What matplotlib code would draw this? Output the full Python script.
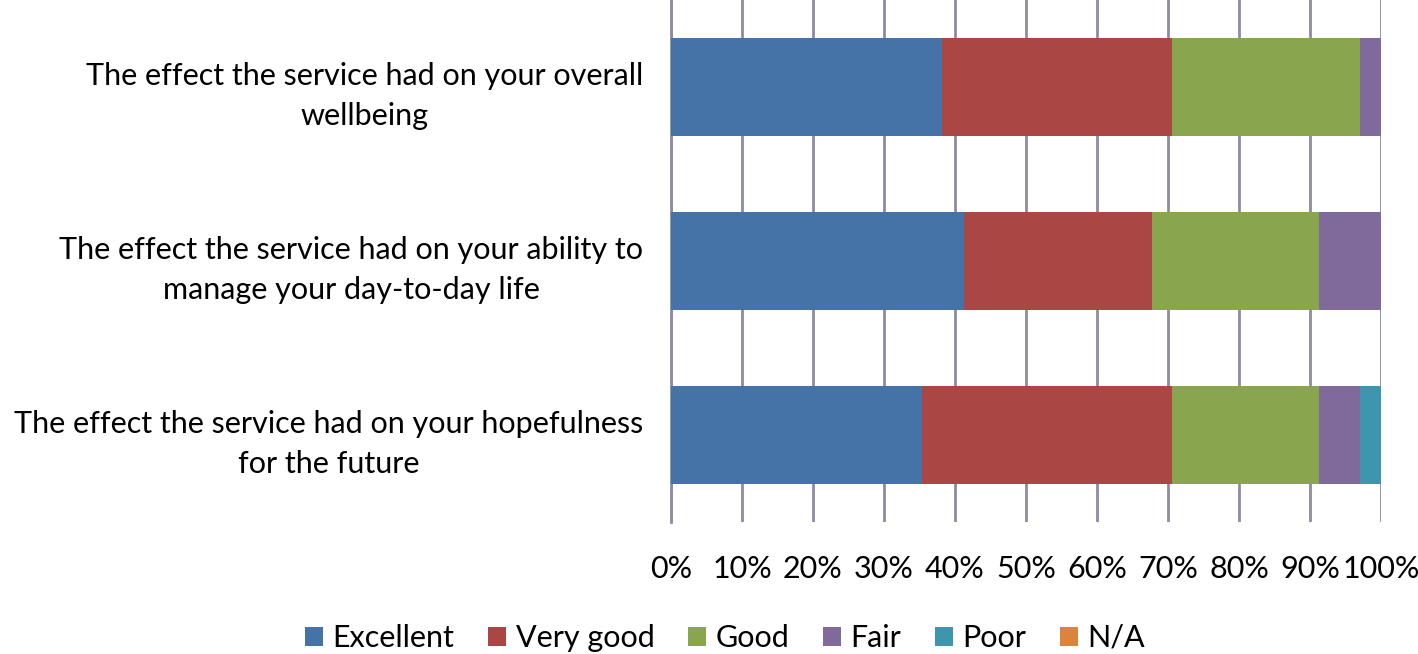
import matplotlib.pyplot as plt
import numpy as np

plt.rcParams['font.family'] = ['Lato', 'DejaVu Sans']

questions = [
    'The effect the service had on your overall\nwellbeing',
    'The effect the service had on your ability to\nmanage your day-to-day life',
    'The effect the service had on your hopefulness\nfor the future',
]
categories = ['Excellent', 'Very good', 'Good', 'Fair', 'Poor', 'N/A']
# percentages per question
excellent = [38.2, 41.2, 35.3]
very_good = [32.4, 26.5, 35.3]
good = [26.5, 23.5, 20.6]
fair = [2.9, 8.8, 5.9]
poor = [0.0, 0.0, 2.9]
na = [0.0, 0.0, 0.0]
xticks = [0, 10, 20, 30, 40, 50, 60, 70, 80, 90, 100]

colors = ['#4572A7', '#AA4643', '#89A54E', '#80699B', '#3D96AE', '#DB843D']

fig = plt.figure(figsize=(14.18, 6.54), dpi=100)
ax = fig.add_axes([671 / 1418, 1 - 522 / 654, 710 / 1418, 522 / 654])

ypos = np.arange(len(questions))
left = np.zeros(len(questions))
for name, vals, c in zip(categories, [excellent, very_good, good, fair, poor, na], colors):
    ax.barh(ypos, vals, left=left, height=0.567, color=c, label=name, zorder=3)
    left += np.array(vals)

ax.set_xlim(0, 100)
ax.set_ylim(2.5, -0.5)
ax.set_xticks(xticks)
ax.set_xticklabels([f'{t}%' for t in xticks], fontsize=22)
ax.set_yticks(ypos)
ax.set_yticklabels(questions, fontsize=22, multialignment='center', linespacing=1.55)
ax.tick_params(axis='both', length=0)
ax.tick_params(axis='x', pad=24)
ax.tick_params(axis='y', pad=20)
ax.grid(axis='x', color='#8C8CA0', linewidth=2, zorder=0)
for s in ['top', 'right', 'bottom']:
    ax.spines[s].set_visible(False)
ax.spines['left'].set_color('#8C8CA0')
ax.spines['left'].set_linewidth(2)

fig.legend(loc='center', bbox_to_anchor=(725 / 1418, 1 - 638 / 654), ncol=6,
           frameon=False, fontsize=22, handlelength=0.6, handleheight=0.6,
           handletextpad=0.3, columnspacing=1.1)

fig.savefig('out.png', dpi=100)
